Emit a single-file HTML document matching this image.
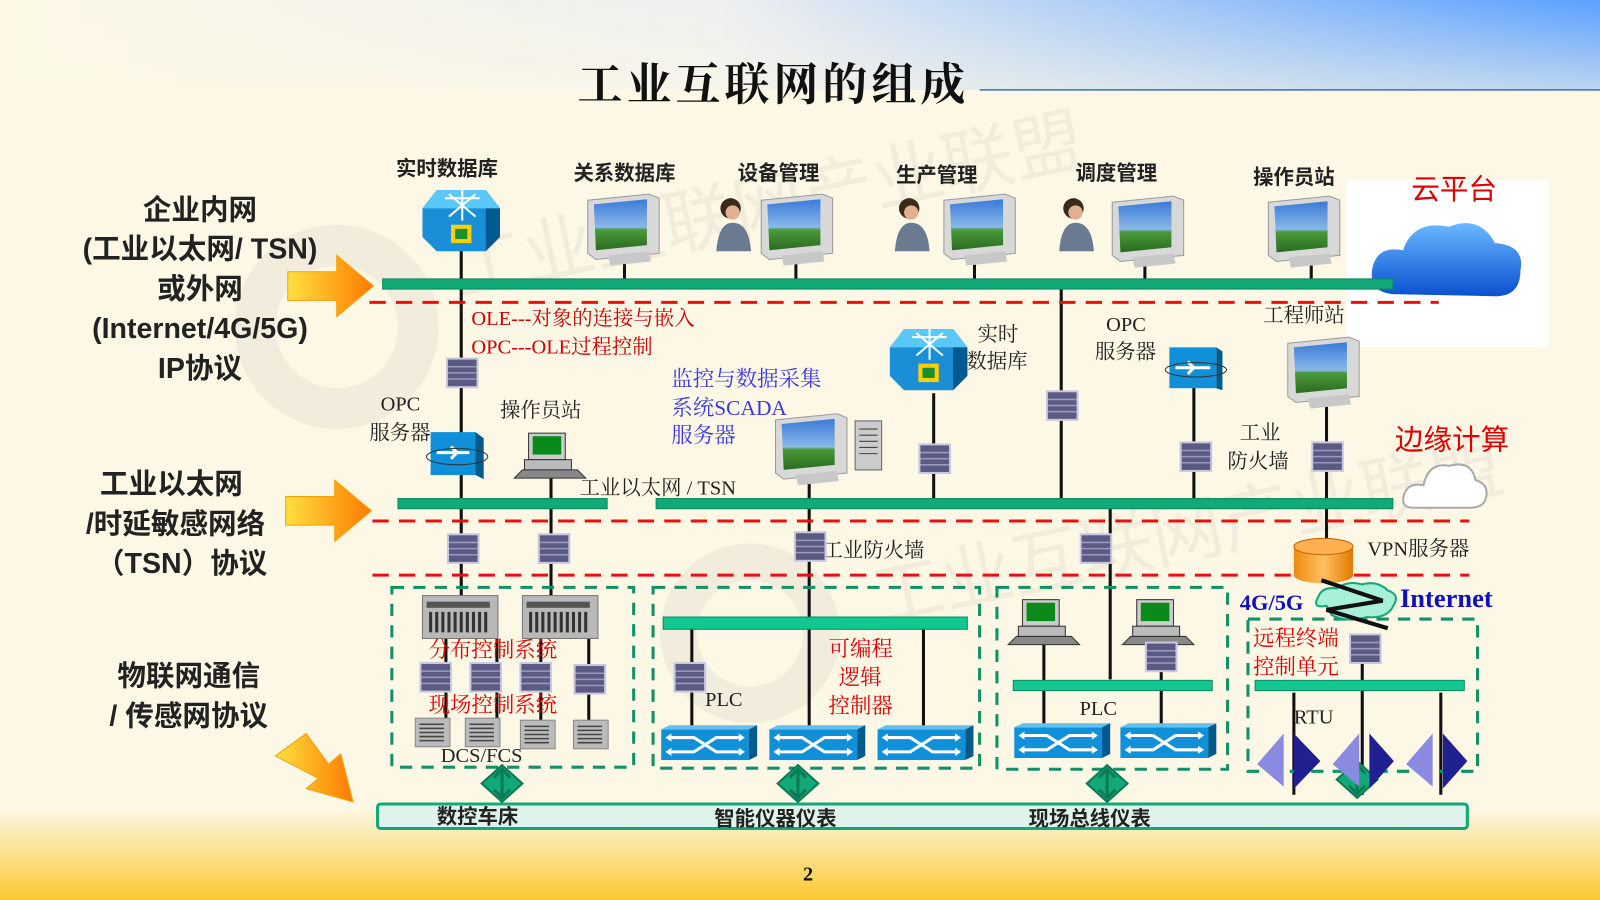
<!DOCTYPE html>
<html><head><meta charset="utf-8">
<style>
html,body{margin:0;padding:0;width:1600px;height:900px;overflow:hidden;background:#fdf8e6}
svg{display:block}
text{font-family:"Liberation Serif","Noto Serif CJK SC","Noto Sans CJK SC",serif}
.s text, text.s{font-family:"Liberation Sans","Noto Sans CJK SC",sans-serif}
</style></head><body>
<svg width="1600" height="900" viewBox="0 0 1568 881" preserveAspectRatio="none" xmlns="http://www.w3.org/2000/svg">
<defs>
<linearGradient id="top" x1="0" y1="0" x2="1" y2="0">
<stop offset="0" stop-color="#fdf8e6"/><stop offset="0.45" stop-color="#eef0f0"/><stop offset="1" stop-color="#5aa0ff"/></linearGradient>
<linearGradient id="topv" x1="0" y1="0" x2="0" y2="1">
<stop offset="0" stop-color="#fdf8e6" stop-opacity="0"/><stop offset="1" stop-color="#fdf8e6" stop-opacity="0.6"/></linearGradient>
<linearGradient id="bot" x1="0" y1="0" x2="0" y2="1">
<stop offset="0" stop-color="#fdf8e6"/><stop offset="1" stop-color="#fbc832"/></linearGradient>
<linearGradient id="arr" x1="0" y1="0" x2="1" y2="0">
<stop offset="0" stop-color="#ffe040"/><stop offset="1" stop-color="#ff7a00"/></linearGradient>
<linearGradient id="scr" x1="0" y1="0" x2="0" y2="1">
<stop offset="0" stop-color="#3a7ad8"/><stop offset="0.55" stop-color="#8ab8e8"/><stop offset="0.6" stop-color="#4a9a3a"/><stop offset="1" stop-color="#2a6a20"/></linearGradient>
<linearGradient id="cloud" x1="0" y1="0" x2="0" y2="1">
<stop offset="0" stop-color="#6ab8ff"/><stop offset="1" stop-color="#0a50d0"/></linearGradient>
<linearGradient id="cyl" x1="0" y1="0" x2="1" y2="0">
<stop offset="0" stop-color="#f08a10"/><stop offset="0.5" stop-color="#ffc060"/><stop offset="1" stop-color="#e07a00"/></linearGradient>
<g id="gb"><rect x="0" y="0" width="32" height="30" fill="#c8c8e0"/><rect x="2" y="2" width="28" height="26" fill="#5a5a82"/><path d="M2 9H30M2 15H30M2 21H30" stroke="#9a9ac0" stroke-width="1.5"/></g>
<g id="sw"><rect x="0" y="4" width="86" height="30" fill="#1090d8"/><path d="M0 4L8 0H94L86 4Z" fill="#60c0f0"/><path d="M86 4L94 0V30L86 34Z" fill="#005a8a"/>
<path d="M10 12H32L54 26H76M10 26H32L54 12H76" stroke="#fff" stroke-width="3" fill="none"/><path d="M76 8L82 12L76 16ZM76 22L82 26L76 30ZM10 8L4 12L10 16ZM10 22L4 26L10 30Z" fill="#fff"/></g>
<g id="mon"><path d="M0 6L60 0L70 4V58L8 64L0 58Z" fill="#d8d8d8" stroke="#999"/><path d="M6 10L58 5V50L8 55Z" fill="url(#scr)"/><path d="M20 60L60 56L62 66L22 70Z" fill="#c8c8c8"/></g>
<g id="pc"><rect x="14" y="0" width="36" height="26" fill="#ccc" stroke="#333"/><rect x="18" y="3" width="28" height="18" fill="#0a8a1a"/><rect x="10" y="26" width="46" height="10" fill="#bbb" stroke="#333"/><path d="M0 44L8 36H62L70 44Z" fill="#888" stroke="#333"/></g>
<g id="rt"><path d="M0 18L14 0H62L76 18V46L62 60H14L0 46Z" fill="#1a8fd8"/><path d="M62 0L76 18V46L62 60Z" fill="#005a90"/><path d="M0 18L14 0H62L76 18Z" fill="#5ac8f8"/>
<path d="M22 8H56M39 0V30M26 4L52 26M52 4L26 26" stroke="#fff" stroke-width="2"/><rect x="28" y="34" width="20" height="18" fill="#ffd000"/><rect x="32" y="38" width="12" height="10" fill="#1a8f30"/></g>
<g id="rack"><rect x="0" y="0" width="74" height="42" fill="#b8b8b8" stroke="#777"/><rect x="4" y="6" width="62" height="6" fill="#555"/><path d="M8 16V36M14 16V36M20 16V36M26 16V36M32 16V36M38 16V36M44 16V36M50 16V36M56 16V36M62 16V36" stroke="#333" stroke-width="3"/></g>
<g id="srv"><rect x="0" y="0" width="34" height="28" fill="#bbb" stroke="#888"/><path d="M4 6H28M4 10H28M4 14H28M4 18H28M4 22H28" stroke="#444" stroke-width="1.5"/></g>
<g id="dm"><path d="M0 0L20 -18L40 0L20 18Z" fill="#12a878" stroke="#0a7a55" stroke-width="2"/><path d="M20 -14V14M12 -6L20 -14L28 -6M12 6L20 14L28 6" stroke="#0a7a55" stroke-width="3" fill="none"/></g>
<g id="wom"><circle cx="16" cy="14" r="10" fill="#3a2a1a"/><circle cx="18" cy="18" r="7" fill="#e0b090"/><path d="M2 56Q4 28 18 28Q34 28 36 56Z" fill="#6a7a90"/></g>
</defs>
<rect width="1568" height="881" fill="#fdf8e6"/>
<rect width="1568" height="88" fill="url(#top)"/>
<rect width="1568" height="88" fill="url(#topv)"/>
<rect y="790" width="1568" height="91" fill="url(#bot)"/>
<path d="M960 88H1568" stroke="#3a6ad8" stroke-width="1.5"/>
<!-- watermark -->
<g opacity="0.07" fill="#555">
<circle cx="330" cy="320" r="80" fill="none" stroke="#555" stroke-width="40"/>
<circle cx="735" cy="620" r="70" fill="none" stroke="#555" stroke-width="36"/>
<text x="450" y="290" font-size="70" transform="rotate(-12 450 290)" class="s">工业互联网产业联盟</text>
<text x="860" y="610" font-size="70" transform="rotate(-12 860 610)" class="s">工业互联网产业联盟</text>
</g>
<text x="758" y="98" font-size="44" font-weight="bold" text-anchor="middle" fill="#111" letter-spacing="4">工业互联网的组成</text>
<!-- top labels -->
<g font-size="20" font-weight="bold" fill="#222" text-anchor="middle" class="s">
<text x="438" y="172">实时数据库</text><text x="612" y="176">关系数据库</text><text x="763" y="176">设备管理</text>
<text x="918" y="178">生产管理</text><text x="1094" y="176">调度管理</text><text x="1268" y="180">操作员站</text></g>
<rect x="1320" y="176" width="198" height="164" fill="#fff"/>
<text x="1425" y="195" font-size="28" fill="#e00000" text-anchor="middle" class="s">云平台</text>
<path d="M1370 288Q1340 288 1345 262Q1350 240 1375 245Q1385 215 1420 222Q1450 210 1465 238Q1495 240 1490 265Q1490 290 1465 290Z" fill="url(#cloud)"/>
<!-- left labels -->
<g font-size="28" font-weight="bold" fill="#222" text-anchor="middle" class="s">
<text x="196" y="215">企业内网</text><text x="196" y="253">(工业以太网/ TSN)</text><text x="196" y="292">或外网</text>
<text x="196" y="331">(Internet/4G/5G)</text><text x="196" y="370">IP协议</text>
<text x="168" y="483">工业以太网</text><text x="172" y="522">/时延敏感网络</text><text x="178" y="561">（TSN）协议</text>
<text x="185" y="671">物联网通信</text><text x="185" y="710">/ 传感网协议</text></g>
<path d="M282 266H330V250L366 280L330 310V294H282Z" fill="url(#arr)" stroke="#f5a000"/>
<path d="M280 486H328V470L364 500L328 530V514H280Z" fill="url(#arr)" stroke="#f5a000"/>
<path d="M270 740L300 718L322 748L334 738L346 785L300 772L312 762Z" fill="url(#arr)" stroke="#f5a000"/>
<!-- vertical lines -->
<g stroke="#111" stroke-width="3">
<path d="M452 240V590M540 455V590M612 240V275M780 240V275M955 240V275M1122 240V275M1285 240V275"/>
<path d="M1040 283V488M1088 498V665M793 410V712M915 385V488M1170 350V488M1300 390V535"/>
<path d="M437 620V710M487 620V710M530 620V710M577 620V710M678 615V712M905 615V712"/>
<path d="M1023 615V668M1023 676V712M1138 615V668M1138 676V712"/>
<path d="M1268 678V778M1335 640V668M1335 676V778M1412 678V778"/>
</g>
<!-- buses -->
<rect x="375" y="273" width="990" height="10" fill="#12a878" stroke="#0a8a60"/>
<rect x="390" y="488" width="205" height="10" fill="#12a878" stroke="#0a8a60"/>
<rect x="643" y="488" width="722" height="10" fill="#12a878" stroke="#0a8a60"/>
<rect x="650" y="604" width="298" height="12" fill="#12c890" stroke="#0a8a60"/>
<rect x="993" y="666" width="195" height="10" fill="#12c890" stroke="#0a8a60"/>
<rect x="1230" y="666" width="205" height="10" fill="#12c890" stroke="#0a8a60"/>
<!-- red dashes -->
<g stroke="#e81010" stroke-width="3" stroke-dasharray="16 10" fill="none">
<path d="M362 296H1410M365 510H1440M365 563H1440"/></g>
<!-- green dashed boxes -->
<g stroke="#12906a" stroke-width="3" stroke-dasharray="12 9" fill="none">
<rect x="384" y="575" width="237" height="176"/><rect x="640" y="575" width="320" height="177"/>
<rect x="977" y="575" width="226" height="178"/><rect x="1223" y="606" width="225" height="149"/></g>
<!-- bottom bar -->
<rect x="370" y="787" width="1068" height="24" rx="3" fill="#dff3ea" stroke="#12a878" stroke-width="3"/>
<g font-size="20" font-weight="bold" fill="#222" class="s"><text x="428" y="806">数控车床</text><text x="700" y="808">智能仪器仪表</text><text x="1008" y="808">现场总线仪表</text></g>
<use href="#dm" x="472" y="767"/><use href="#dm" x="762" y="767"/><use href="#dm" x="1065" y="767"/><use href="#dm" x="1310" y="763"/>
<!-- devices top -->
<use href="#rt" x="414" y="186"/>
<use href="#mon" x="576" y="190"/>
<use href="#wom" x="700" y="190"/><use href="#mon" x="746" y="190"/>
<use href="#wom" x="875" y="190"/><use href="#mon" x="925" y="190"/>
<use href="#wom" x="1036" y="190"/><use href="#mon" x="1090" y="192"/>
<use href="#mon" x="1243" y="192"/>
<!-- middle -->
<g font-size="20" fill="#cc0000"><text x="462" y="318">OLE---对象的连接与嵌入</text><text x="462" y="346">OPC---OLE过程控制</text></g>
<g font-size="21" fill="#3a3ae0"><text x="658" y="378">监控与数据采集</text><text x="658" y="406">系统SCADA</text><text x="658" y="433">服务器</text></g>
<g font-size="20" fill="#222"><text x="373" y="402">OPC</text><text x="362" y="430">服务器</text><text x="490" y="408">操作员站</text>
<text x="568" y="484">工业以太网 / TSN</text><text x="958" y="334">实时</text><text x="947" y="360">数据库</text>
<text x="1084" y="324">OPC</text><text x="1073" y="351">服务器</text><text x="1238" y="315">工程师站</text>
<text x="1215" y="430">工业</text><text x="1203" y="458">防火墙</text><text x="806" y="545">工业防火墙</text>
<text x="1340" y="544">VPN服务器</text><text x="691" y="691">PLC</text><text x="1058" y="700">PLC</text><text x="1268" y="708">RTU</text><text x="432" y="746">DCS/FCS</text></g>
<use href="#gb" x="437" y="350"/>
<g transform="translate(422,423)"><rect x="0" y="0" width="44" height="42" fill="#1090d8"/><path d="M44 0L52 6V46L44 42Z" fill="#005a8a"/><path d="M6 20H38M20 14L26 20L20 26" stroke="#fff" stroke-width="3" fill="none"/><ellipse cx="26" cy="24" rx="30" ry="8" fill="none" stroke="#333"/></g>
<use href="#pc" x="504" y="424"/>
<use href="#mon" x="760" y="405"/><g transform="translate(838,412)"><rect width="26" height="48" fill="#ccc" stroke="#666"/><path d="M4 8H22M4 14H22M4 20H22M4 26H22M4 32H22" stroke="#444"/></g>
<use href="#rt" x="872" y="322"/>
<g transform="translate(1146,340)"><rect x="0" y="0" width="46" height="40" fill="#1090d8"/><path d="M46 0L52 4V42L46 40Z" fill="#005a8a"/><path d="M6 20H40M18 14L24 20L18 26" stroke="#fff" stroke-width="3" fill="none"/><ellipse cx="26" cy="22" rx="30" ry="7" fill="none" stroke="#333"/></g>
<use href="#mon" x="1262" y="330"/>
<use href="#gb" x="900" y="434"/><use href="#gb" x="1025" y="382"/><use href="#gb" x="1156" y="432"/><use href="#gb" x="1285" y="432"/>
<use href="#gb" x="438" y="522"/><use href="#gb" x="527" y="522"/><use href="#gb" x="778" y="520"/><use href="#gb" x="1058" y="522"/>
<text x="1423" y="440" font-size="28" fill="#e00000" text-anchor="middle" class="s">边缘计算</text>
<path d="M1385 497Q1372 497 1376 484Q1380 472 1395 475Q1400 452 1420 456Q1442 450 1446 470Q1460 474 1456 488Q1454 497 1440 497Z" fill="#fff" stroke="#aaa" stroke-width="2"/>
<!-- VPN -->
<g transform="translate(1268,527)"><path d="M0 8V36A29 8 0 0 0 58 36V8Z" fill="url(#cyl)"/><ellipse cx="29" cy="8" rx="29" ry="8" fill="#ffb050" stroke="#c06000"/></g>
<path d="M1300 593Q1285 596 1292 584Q1296 574 1310 576Q1320 568 1335 572Q1350 568 1360 578Q1372 582 1366 592Q1360 606 1340 604Q1320 610 1305 602Z" fill="#a8f0d8" stroke="#12a878" stroke-width="2"/>
<path d="M1295 568L1355 588L1300 597L1360 615" stroke="#111" stroke-width="4" fill="none"/>
<text x="1215" y="597" font-size="22" font-weight="bold" fill="#1010c0">4G/5G</text>
<text x="1372" y="594" font-size="26" font-weight="bold" fill="#1010c0">Internet</text>
<g font-size="21" fill="#e00000"><text x="1228" y="632">远程终端</text><text x="1228" y="660">控制单元</text></g>
<use href="#gb" x="1322" y="620"/>
<!-- DCS -->
<use href="#rack" x="414" y="583"/><use href="#rack" x="512" y="583"/>
<g font-size="21" fill="#e00000"><text x="420" y="643">分布控制系统</text><text x="420" y="697">现场控制系统</text></g>
<use href="#gb" x="411" y="648"/><use href="#gb" x="460" y="648"/><use href="#gb" x="509" y="648"/><use href="#gb" x="562" y="650"/>
<use href="#srv" x="407" y="703"/><use href="#srv" x="456" y="703"/><use href="#srv" x="510" y="705"/><use href="#srv" x="562" y="705"/>
<!-- PLC -->
<use href="#gb" x="660" y="648"/>
<g font-size="21" fill="#e00000"><text x="812" y="642">可编程</text><text x="822" y="670">逻辑</text><text x="812" y="698">控制器</text></g>
<use href="#sw" x="648" y="710"/><use href="#sw" x="754" y="710"/><use href="#sw" x="860" y="710"/>
<use href="#pc" x="988" y="587"/><use href="#pc" x="1100" y="587"/><use href="#gb" x="1122" y="628"/>
<use href="#sw" x="994" y="708"/><use href="#sw" x="1098" y="708"/>
<!-- RTU triangles -->
<g><path d="M1258 718L1232 748L1258 770Z" fill="#8a8ae0"/><path d="M1268 718L1294 745L1268 772Z" fill="#202090"/>
<path d="M1332 718L1306 748L1332 770Z" fill="#8a8ae0"/><path d="M1342 718L1366 745L1342 772Z" fill="#202090"/>
<path d="M1404 718L1378 748L1404 770Z" fill="#8a8ae0"/><path d="M1414 718L1438 745L1414 772Z" fill="#202090"/></g>
<text x="792" y="862" font-size="20" font-weight="bold" fill="#111" text-anchor="middle">2</text>
</svg>
</body></html>
